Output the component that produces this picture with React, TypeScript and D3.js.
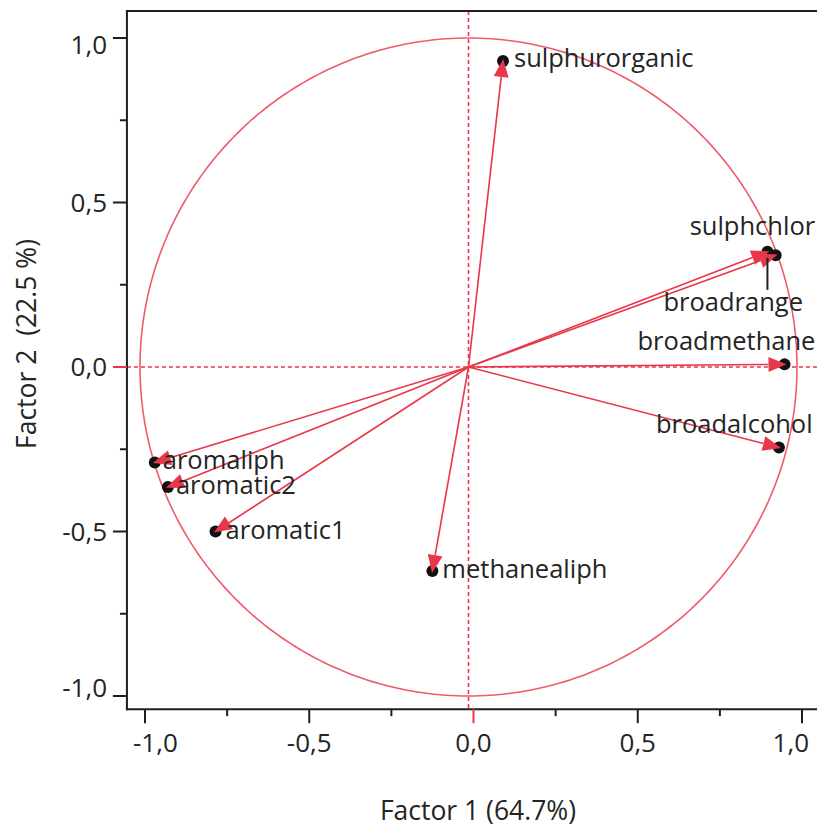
import React from "react";
import * as d3 from "d3";

// Variable loadings on the first two factors
const variables = [
  "sulphurorganic",
  "sulphchlor",
  "broadrange",
  "broadmethane",
  "broadalcohol",
  "aromaliph",
  "aromatic2",
  "aromatic1",
  "methanealiph",
];
const factor1 = [0.105, 0.935, 0.91, 0.962, 0.945, -0.955, -0.915, -0.77, -0.11];
const factor2 = [0.93, 0.34, 0.35, 0.008, -0.245, -0.29, -0.365, -0.5, -0.62];

// Label placement relative to each point (pixels)
const labelDx = [11, -86, -104, -147, -123, 8, 8, 10, 10];
const labelDy = [6, -20, 59, -14, -15, 7, 7, 7, 7];

const majorTicks = [-1, -0.5, 0, 0.5, 1];
const minorTicks = [-0.75, -0.25, 0.25, 0.75];

const xTitle = "Factor 1 (64.7%)";
const yTitle = "Factor 2  (22.5 %)";

const W = 817;
const H = 832;
const FONT = "'Open Sans', 'Noto Sans', sans-serif";
const TEXT = "#242424";
const RED = "#e8374a";
const CIRCLE_RED = "#ef5b6a";
const LABEL_SIZE = 25.5;
const TICK_SIZE = 26;
const TITLE_SIZE = 26.5;

const fmt = (v: number) => d3.format(".1f")(v).replace(".", ",").replace("−", "-");

export default function App() {
  // axis scales
  const xAxis = d3.scaleLinear().domain([-1, 1]).range([145, 802]);
  const yAxis = d3.scaleLinear().domain([-1, 1]).range([696, 38]);
  // plotting scales for the correlation circle (origin drawn slightly left of the axis zero)
  const x = d3.scaleLinear().domain([-1, 1]).range([140, 797]);
  const y = yAxis;

  const left = xAxis(-1.055);
  const top = yAxis(1.082);
  const bottom = yAxis(-1.04);
  const right = W + 10;

  const circle = d3
    .line<number>()
    .x((a) => x(Math.cos(a)))
    .y((a) => y(Math.sin(a)))
    .curve(d3.curveLinearClosed)(d3.range(0, 360, 1).map((d) => (d * Math.PI) / 180));

  const ox = x(0);
  const oy = y(0);
  const headLen = 16;
  const headHalf = 7.5;

  // end tick labels are kept inside the frame
  const xLabel = (t: number) => {
    if (t === majorTicks[0]) return { x: left + 6, anchor: "start" };
    if (t === majorTicks[majorTicks.length - 1]) return { x: 809, anchor: "end" };
    return { x: xAxis(t), anchor: "middle" };
  };
  const yLabelY = (t: number) => {
    if (t === majorTicks[majorTicks.length - 1]) return top + 43;
    if (t === majorTicks[0]) return bottom - 12;
    return yAxis(t) + 9;
  };

  return (
    <svg
      width={W}
      height={H}
      style={{ position: "absolute", left: 0, top: 0, background: "#fff" }}
      fontFamily={FONT}
    >
      {/* zero reference lines */}
      <line x1={left} x2={right} y1={oy} y2={oy} stroke={RED} strokeWidth={1.6} strokeDasharray="4,3" />
      <line x1={ox} x2={ox} y1={top} y2={bottom} stroke={RED} strokeWidth={1.6} strokeDasharray="4,3" />

      {/* unit circle */}
      <path d={circle ?? ""} fill="none" stroke={CIRCLE_RED} strokeWidth={1.6} />

      {/* points */}
      {variables.map((v, i) => (
        <circle key={"p" + v} cx={x(factor1[i])} cy={y(factor2[i])} r={6} fill="#111" />
      ))}

      {/* arrows */}
      {variables.map((v, i) => {
        const px = x(factor1[i]);
        const py = y(factor2[i]);
        const dx = px - ox;
        const dy = py - oy;
        const len = Math.hypot(dx, dy);
        const ux = dx / len;
        const uy = dy / len;
        const bx = px - ux * headLen;
        const by = py - uy * headLen;
        const tip = [px + ux * 2, py + uy * 2];
        const p1 = [bx - uy * headHalf, by + ux * headHalf];
        const p2 = [bx + uy * headHalf, by - ux * headHalf];
        return (
          <g key={"a" + v}>
            <line x1={ox} y1={oy} x2={bx} y2={by} stroke={RED} strokeWidth={1.6} />
            <path d={`M${tip[0]},${tip[1]}L${p1[0]},${p1[1]}L${p2[0]},${p2[1]}Z`} fill={RED} />
          </g>
        );
      })}

      {/* leader line for broadrange */}
      <line
        x1={x(factor1[2])}
        x2={x(factor1[2])}
        y1={y(factor2[2]) + 6}
        y2={y(factor2[2]) + 38}
        stroke="#222"
        strokeWidth={2}
      />

      {/* labels */}
      {variables.map((v, i) => (
        <text
          key={"l" + v}
          x={x(factor1[i]) + labelDx[i]}
          y={y(factor2[i]) + labelDy[i]}
          fontSize={LABEL_SIZE}
          fill={TEXT}
        >
          {v}
        </text>
      ))}

      {/* frame */}
      <g stroke="#1e1e1e" strokeWidth={2} fill="none">
        <line x1={left} x2={left} y1={top} y2={bottom + 1} />
        <line x1={left - 1} x2={right} y1={top} y2={top} />
        <line x1={left - 1} x2={right} y1={bottom} y2={bottom} />
      </g>

      {/* y axis */}
      {majorTicks.map((t) => (
        <g key={"ym" + t}>
          <line x1={left - 14} x2={left} y1={yAxis(t)} y2={yAxis(t)} stroke={t === 0 ? RED : "#1e1e1e"} strokeWidth={2} />
          <text x={107} y={yLabelY(t)} textAnchor="end" fontSize={TICK_SIZE} fill={TEXT}>
            {fmt(t)}
          </text>
        </g>
      ))}
      {minorTicks.map((t) => (
        <line key={"yn" + t} x1={left - 7} x2={left} y1={yAxis(t)} y2={yAxis(t)} stroke="#1e1e1e" strokeWidth={2} />
      ))}

      {/* x axis */}
      {majorTicks.map((t) => {
        const l = xLabel(t);
        return (
          <g key={"xm" + t}>
            <line x1={xAxis(t)} x2={xAxis(t)} y1={bottom} y2={bottom + 14} stroke={t === 0 ? RED : "#1e1e1e"} strokeWidth={2} />
            <text x={l.x} y={752} textAnchor={l.anchor as any} fontSize={TICK_SIZE} fill={TEXT}>
              {fmt(t)}
            </text>
          </g>
        );
      })}
      {minorTicks.map((t) => (
        <line key={"xn" + t} x1={xAxis(t)} x2={xAxis(t)} y1={bottom} y2={bottom + 7} stroke="#1e1e1e" strokeWidth={2} />
      ))}

      {/* axis titles */}
      <text x={478} y={820} textAnchor="middle" fontSize={TITLE_SIZE} fill={TEXT} style={{ whiteSpace: "pre" }}>
        {xTitle}
      </text>
      <text
        transform={`translate(36,344) rotate(-90)`}
        textAnchor="middle"
        fontSize={TITLE_SIZE}
        fill={TEXT}
        style={{ whiteSpace: "pre" }}
      >
        {yTitle}
      </text>
    </svg>
  );
}
